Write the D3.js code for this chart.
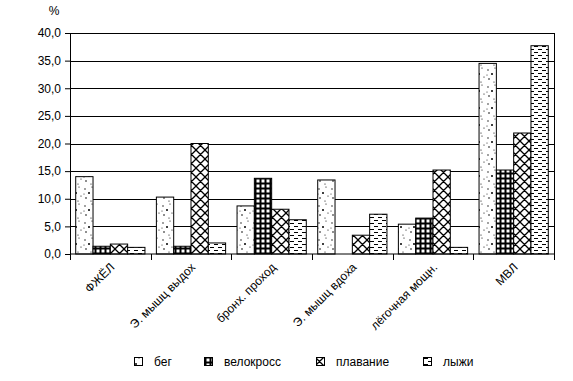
<!DOCTYPE html>
<html>
<head>
<meta charset="utf-8">
<script src="https://cdn.jsdelivr.net/npm/d3@7"></script>
<style>
  body { margin: 0; background: #fff; }
  text { font-family: "Liberation Sans", Arial, sans-serif; fill: #000; }
</style>
</head>
<body>
<div id="viz"><svg></svg></div>
<script>
const fullWidth = 573;
const fullHeight = 381;

const margin = { top: 33, right: 19, bottom: 127, left: 70 },
  width = fullWidth - margin.left - margin.right,
  height = fullHeight - margin.top - margin.bottom;

// data
const categories = ['ФЖЁЛ', 'Э. мышц выдох', 'бронх. проход', 'Э. мышц вдоха', 'лёгочная мощн.', 'МВЛ'];
const seriesNames = ['бег', 'велокросс', 'плавание', 'лыжи'];
const run = [14.0, 10.3, 8.7, 13.4, 5.4, 34.5];
const cycle = [1.4, 1.4, 13.7, 0, 6.5, 15.2];
const swim = [1.8, 20.0, 8.1, 3.4, 15.2, 21.9];
const ski = [1.2, 2.0, 6.2, 7.2, 1.2, 37.7];
const yTicks = [0, 5, 10, 15, 20, 25, 30, 35, 40];

const seriesValues = [run, cycle, swim, ski];
const patternIds = ['p-dots', 'p-grid', 'p-cross', 'p-dash'];

const svg = d3.select('#viz svg')
  .attr('width', fullWidth)
  .attr('height', fullHeight);

// patterns
const defs = svg.append('defs');

let pd = defs.append('pattern').attr('id', 'p-dots')
  .attr('patternUnits', 'userSpaceOnUse').attr('width', 13).attr('height', 17);
pd.append('rect').attr('width', 13).attr('height', 17).attr('fill', '#fff');
[[2, 3, 0.7], [9, 1, 0.6], [6, 7, 1.0], [11, 10, 0.6], [3, 12, 0.8], [8, 15, 0.6], [1, 8, 0.5]]
  .forEach(d => pd.append('circle').attr('cx', d[0]).attr('cy', d[1]).attr('r', d[2]).attr('fill', '#000'));

let pg = defs.append('pattern').attr('id', 'p-grid')
  .attr('patternUnits', 'userSpaceOnUse').attr('width', 5).attr('height', 5);
pg.append('rect').attr('width', 5).attr('height', 5).attr('fill', '#000');
pg.append('rect').attr('x', 1.5).attr('y', 1.5).attr('width', 3).attr('height', 3).attr('fill', '#fff');

let pc = defs.append('pattern').attr('id', 'p-cross')
  .attr('patternUnits', 'userSpaceOnUse').attr('width', 9).attr('height', 9);
pc.append('rect').attr('width', 9).attr('height', 9).attr('fill', '#fff');
pc.append('path').attr('d', 'M0,0L9,9M9,0L0,9M-1,8L1,10M8,-1L10,1')
  .attr('stroke', '#000').attr('stroke-width', 1.3);

let pdash = defs.append('pattern').attr('id', 'p-dash')
  .attr('patternUnits', 'userSpaceOnUse').attr('width', 8).attr('height', 6);
pdash.append('rect').attr('width', 8).attr('height', 6).attr('fill', '#fff');
pdash.append('path').attr('d', 'M0,1.5H4M4,4.5H8').attr('stroke', '#000').attr('stroke-width', 1);

const g = svg.append('g')
  .attr('transform', `translate(${margin.left},${margin.top})`);

const x = d3.scaleBand().domain(categories).range([0, width]).padding(0);
const xs = d3.scaleBand().domain(seriesNames).range([0, x.bandwidth()])
  .paddingInner(0).paddingOuter(0.33);
const y = d3.scaleLinear().domain([0, 40]).range([height, 0]);

// grid
g.selectAll('line.grid')
  .data(yTicks.slice(1))
  .enter().append('line')
  .attr('x1', 0).attr('x2', width)
  .attr('y1', d => Math.round(y(d)) + 0.5).attr('y2', d => Math.round(y(d)) + 0.5)
  .attr('stroke', '#000').attr('stroke-width', 1);

g.append('line')
  .attr('x1', width + 0.5).attr('x2', width + 0.5)
  .attr('y1', y(40)).attr('y2', height)
  .attr('stroke', '#000');

// bars
seriesNames.forEach((s, i) => {
  g.selectAll('rect.s' + i)
    .data(seriesValues[i].map((v, j) => ({ cat: categories[j], v })).filter(d => d.v > 0))
    .enter().append('rect')
    .attr('x', d => x(d.cat) + xs(s))
    .attr('y', d => y(d.v))
    .attr('width', xs.bandwidth())
    .attr('height', d => height - y(d.v))
    .attr('fill', `url(#${patternIds[i]})`)
    .attr('stroke', '#000')
    .attr('stroke-width', 1);
});

// y axis
const yAxis = g.append('g')
  .call(d3.axisLeft(y).tickValues(yTicks).tickSize(5).tickSizeOuter(0)
    .tickFormat(d => d3.format('.1f')(d).replace('.', ',')));
yAxis.selectAll('path, line').attr('stroke', '#000');
yAxis.selectAll('text').attr('font-size', 12).attr('dx', -1);

// x axis
const xAxis = g.append('g').attr('transform', `translate(0,${height})`);
xAxis.append('line').attr('x1', 0).attr('x2', width).attr('stroke', '#000');
xAxis.selectAll('line.tick')
  .data(d3.range(categories.length + 1))
  .enter().append('line')
  .attr('x1', d => Math.round(d * x.step()) + 0.5).attr('x2', d => Math.round(d * x.step()) + 0.5)
  .attr('y1', 0).attr('y2', 6)
  .attr('stroke', '#000');
xAxis.selectAll('text')
  .data(categories)
  .enter().append('text')
  .attr('text-anchor', 'end')
  .attr('font-size', 12)
  .attr('transform', d => `translate(${x(d) + x.bandwidth() / 2 + 5},${14}) rotate(-45)`)
  .text(d => d);

// % label
svg.append('text')
  .attr('x', 54).attr('y', 15)
  .attr('text-anchor', 'middle')
  .attr('font-size', 12)
  .text('%');

// legend
const legendX = [134, 204, 316, 423];
const legend = svg.append('g').attr('transform', 'translate(0,357)');
seriesNames.forEach((s, i) => {
  legend.append('rect')
    .attr('x', legendX[i] + 0.5).attr('y', 0.5)
    .attr('width', 8).attr('height', 8)
    .attr('fill', `url(#${patternIds[i]})`)
    .attr('stroke', '#000');
  legend.append('text')
    .attr('x', legendX[i] + 20).attr('y', 9)
    .attr('font-size', 12)
    .text(s);
});
</script>
</body>
</html>
